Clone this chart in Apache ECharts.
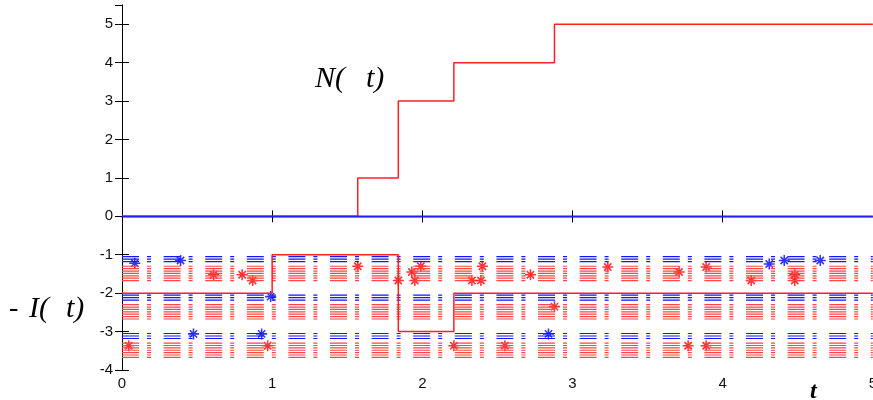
<!DOCTYPE html>
<html><head><meta charset="utf-8">
<script src="https://cdn.jsdelivr.net/npm/echarts@6/dist/echarts.min.js"></script>
<style>html,body{margin:0;padding:0;background:#fff;overflow:hidden}#c{width:880px;height:400px}</style>
</head><body><div id="c"></div>
<script>
// N(t) step counting process
const nTimes = [0, 1.57, 1.84, 2.21, 2.88, 5];
const nValues = [0, 1, 3, 4, 5, 5];
// -I(t) step process
const iTimes = [0, 1.0, 1.84, 2.21, 5];
const iValues = [-2, -1, -3, -2, -2];
// zero reference line
const zeroTimes = [0, 5];
const zeroValues = [0, 0];
// dash-dot bands
const bandBases = [-1, -2, -3];
const blueOffsets = [0.05, 0.115, 0.18];
const redOffsets = [0.30, 0.362, 0.424, 0.486, 0.548, 0.61, 0.672];
// star markers
const blueStarX = [0.085, 0.39, 0.99, 0.476, 0.93, 2.84, 4.31, 4.41, 4.65];
const blueStarY = [-1.22, -1.15, -2.09, -3.06, -3.06, -3.06, -1.24, -1.15, -1.15];
const redStarX = [0.61, 0.80, 0.87, 0.045, 0.97, 1.57, 1.84, 1.93, 1.99, 1.95, 2.40, 2.33, 2.39, 2.72, 2.88, 2.21, 2.55, 3.235, 3.71, 3.89, 4.19, 4.48, 4.48, 3.77, 3.89];
const redStarY = [-1.52, -1.52, -1.67, -3.37, -3.37, -1.30, -1.67, -1.45, -1.30, -1.67, -1.30, -1.67, -1.67, -1.52, -2.35, -3.37, -3.37, -1.32, -1.45, -1.32, -1.67, -1.52, -1.67, -3.37, -3.37];
// axis ranges
const xMin = 0, xMax = 5, xStep = 1;
const yMin = -4, yMax = 5.5, yStep = 1;

const zip = (a, b) => a.map((v, i) => [v, b[i]]);
const STAR = 'path://M0 4.3L10 4.3L10 5.7L0 5.7Z M4.3 0L5.7 0L5.7 10L4.3 10Z M1.2 2.2L2.2 1.2L8.8 7.8L7.8 8.8Z M7.8 1.2L8.8 2.2L2.2 8.8L1.2 7.8Z';
const DASH = [17, 8, 4, 12.6];

const series = [];
bandBases.forEach(b => {
  redOffsets.forEach(o => series.push({
    type: 'line', data: [[xMin, b - o], [xMax, b - o]], showSymbol: false, silent: true,
    lineStyle: { color: '#ff4545', width: 1.2, type: DASH }
  }));
  blueOffsets.forEach(o => series.push({
    type: 'line', data: [[xMin, b - o], [xMax, b - o]], showSymbol: false, silent: true,
    lineStyle: { color: '#1515ff', width: 1.2, type: DASH }
  }));
});
series.push({ type: 'line', step: 'end', data: zip(nTimes, nValues), showSymbol: false, lineStyle: { color: '#ff2020', width: 1.5 } });
series.push({ type: 'line', data: zip(zeroTimes, zeroValues), showSymbol: false, lineStyle: { color: '#2020ff', width: 1.5 } });
series.push({ type: 'line', step: 'end', data: zip(iTimes, iValues), showSymbol: false, lineStyle: { color: '#ff2020', width: 1.5 } });
series.push({ type: 'scatter', data: zip(blueStarX, blueStarY), symbol: STAR, symbolSize: 11, itemStyle: { color: '#0000ff' } });
series.push({ type: 'scatter', data: zip(redStarX, redStarY), symbol: STAR, symbolSize: 11, itemStyle: { color: '#ff0000' } });

const axLine = { lineStyle: { color: '#000', width: 1 } };
const lbl = { color: '#111', fontSize: 15, fontFamily: 'Liberation Sans, Arial, sans-serif' };

const chart = echarts.init(document.getElementById('c'));
chart.setOption({
  animation: false,
  backgroundColor: '#fff',
  grid: { left: 122, right: 3, top: 5, bottom: 30 },
  xAxis: [
    { type: 'value', min: xMin, max: xMax, interval: xStep, position: 'bottom', axisLine: axLine,
      axisTick: { inside: true, length: 6, lineStyle: { color: '#000' } },
      axisLabel: Object.assign({ margin: 6 }, lbl), splitLine: { show: false } },
    { type: 'value', min: xMin, max: xMax, interval: xStep, position: 'top',
      axisLine: { lineStyle: { color: '#666', width: 1.5 } },
      axisTick: { inside: true, length: 6, lineStyle: { color: '#000' } },
      axisLabel: { show: false }, splitLine: { show: false } }
  ],
  yAxis: [
    { type: 'value', min: yMin, max: yMax, interval: yStep, position: 'left', axisLine: Object.assign({ show: true }, axLine),
      axisTick: { show: true, inside: true, length: 7, lineStyle: { color: '#000' } },
      axisLabel: Object.assign({ margin: 9, showMaxLabel: false }, lbl), splitLine: { show: false } },
    { type: 'value', min: yMin, max: yMax, interval: yStep, position: 'right', axisLine: Object.assign({ show: true }, axLine),
      axisTick: { show: true, inside: true, length: 7, lineStyle: { color: '#000' } },
      axisLabel: { show: false }, splitLine: { show: false } }
  ],
  series: series,
  graphic: [
    { type: 'text', left: 315, top: 64, style: { text: 'N(', font: 'italic 30px "Liberation Serif", serif', fill: '#000' } },
    { type: 'text', left: 366, top: 64, style: { text: 't)', font: 'italic 30px "Liberation Serif", serif', fill: '#000' } },
    { type: 'text', left: 9, top: 295, style: { text: '-', font: '28px "Liberation Serif", serif', fill: '#000' } },
    { type: 'text', left: 29, top: 294, style: { text: 'I(', font: 'italic 30px "Liberation Serif", serif', fill: '#000' } },
    { type: 'text', left: 66, top: 294, style: { text: 't)', font: 'italic 30px "Liberation Serif", serif', fill: '#000' } },
    { type: 'text', left: 810, top: 380, style: { text: 't', font: 'italic bold 24px "Liberation Serif", serif', fill: '#000' } }
  ]
});
</script></body></html>
